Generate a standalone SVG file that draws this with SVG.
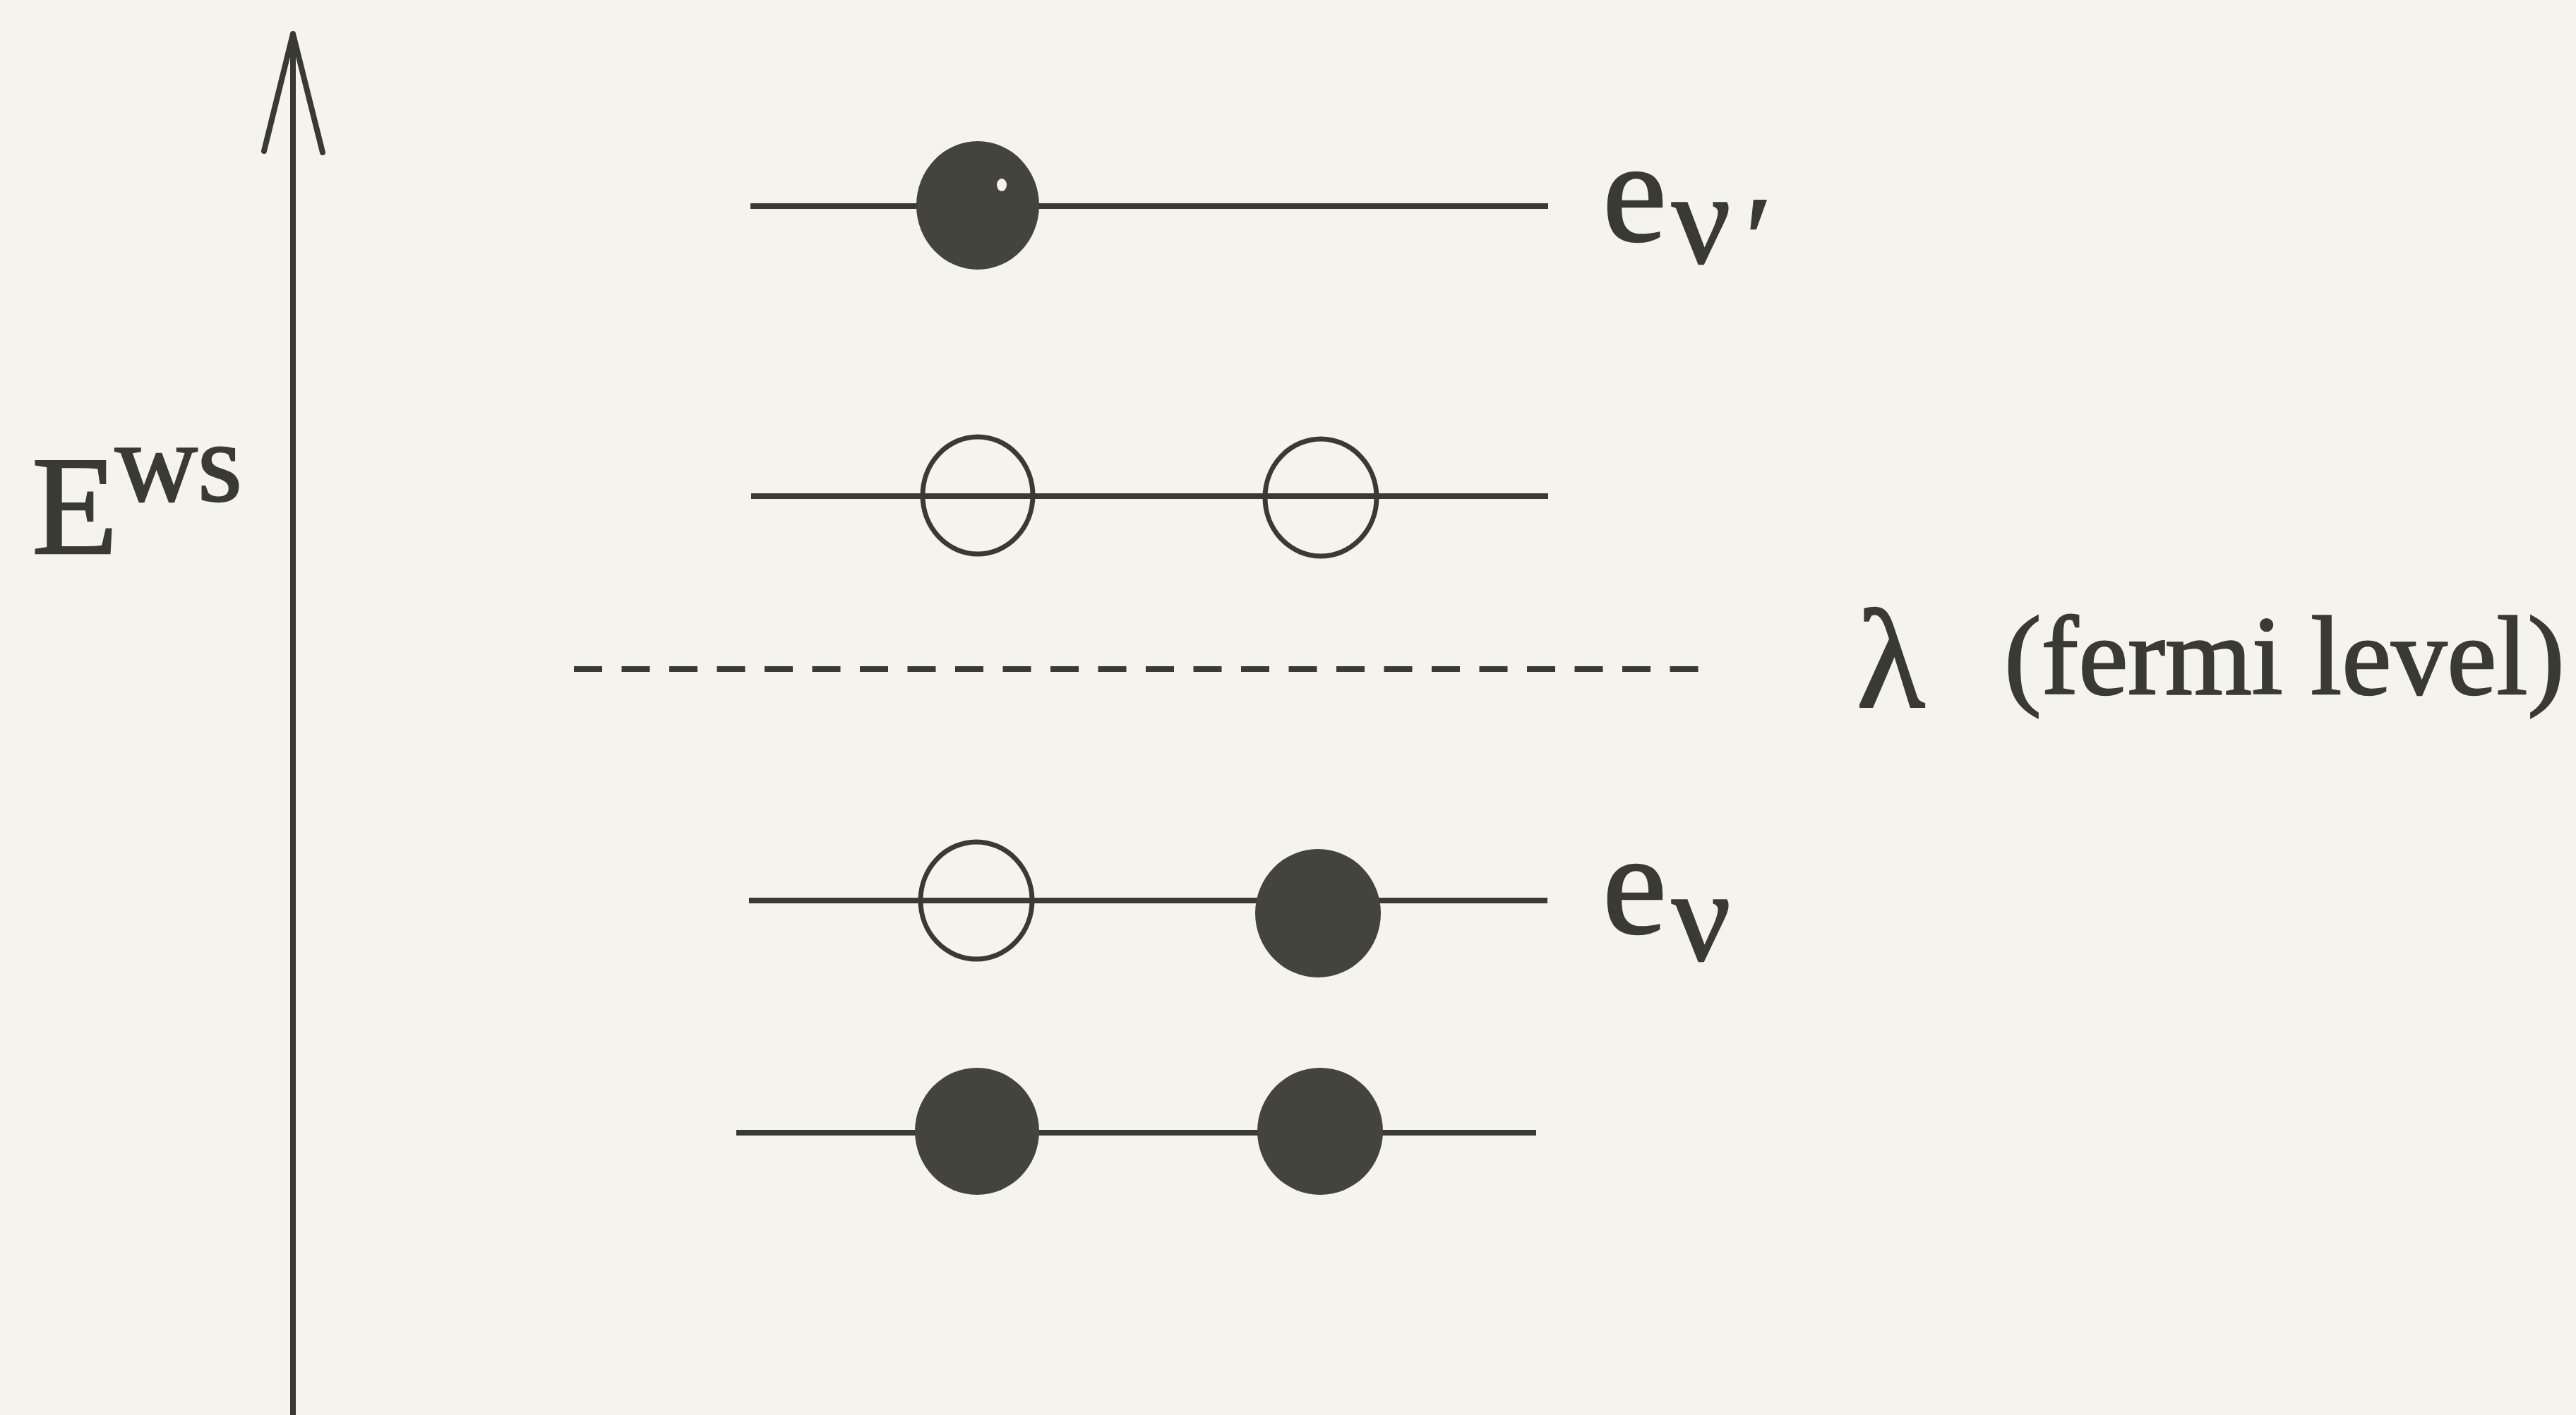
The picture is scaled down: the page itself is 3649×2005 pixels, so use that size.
<svg xmlns="http://www.w3.org/2000/svg" width="3649" height="2005" viewBox="0 0 3649 2005">
  <style>
    .ink { stroke: #3a3a35; stroke-width: 8; fill: none; stroke-linecap: round; }
    .lvl { stroke: #3a3a35; stroke-width: 8; fill: none; }
    .full { fill: #44443e; stroke: none; }
    .empty { fill: none; stroke: #3a3a35; stroke-width: 7; }
    .t { font-family: "Liberation Serif", "Times New Roman", serif; fill: #3a3a35; stroke: #3a3a35; stroke-width: 2.5; }
  </style>
  <rect width="3649" height="2005" fill="#f4f4ed"/>

  <g id="axis">
    <line class="ink" x1="415" y1="48" x2="415" y2="2010"/>
    <polyline class="ink" points="374,214 415,48 457,216" stroke-linejoin="miter"/>
    <text class="t" x="45" y="784" font-size="200">E</text>
    <text class="t" x="163" y="709" font-size="162">ws</text>
  </g>

  <g id="connectors">
    <line id="level-1" class="lvl" x1="1063" y1="292" x2="2193" y2="292"/>
    <line id="level-2" class="lvl" x1="1064" y1="703" x2="2193" y2="703"/>
    <line id="fermi" class="lvl" x1="813" y1="948" x2="2408" y2="948" stroke-dasharray="40 27.5"/>
    <line id="level-3" class="lvl" x1="1061" y1="1276" x2="2192" y2="1276"/>
    <line id="level-4" class="lvl" x1="1043" y1="1605" x2="2176" y2="1605"/>
  </g>

  <g id="e1a"><ellipse class="full" cx="1385" cy="291" rx="87" ry="91"/><ellipse cx="1419" cy="262" rx="7" ry="9" fill="#f4f4ed"/></g>
  <g id="e2a"><ellipse class="empty" cx="1385" cy="702" rx="78" ry="83"/></g>
  <g id="e2b"><ellipse class="empty" cx="1871" cy="705" rx="79" ry="83"/></g>
  <g id="e3a"><ellipse class="empty" cx="1383" cy="1276" rx="79" ry="83"/></g>
  <g id="e3b"><ellipse class="full" cx="1867" cy="1294" rx="89" ry="91"/></g>
  <g id="e4a"><ellipse class="full" cx="1384" cy="1603" rx="88" ry="90"/></g>
  <g id="e4b"><ellipse class="full" cx="1870" cy="1603" rx="89" ry="90"/></g>

  <g id="label-ev-prime">
    <text class="t" x="2270" y="341" font-size="205">e</text>
    <text class="t" x="2368" y="372" font-size="185">ν</text>
    <text class="t" x="2462" y="395" font-size="170" font-style="italic">′</text>
  </g>
  <g id="label-ev">
    <text class="t" x="2270" y="1322" font-size="205">e</text>
    <text class="t" x="2368" y="1360" font-size="185">ν</text>
  </g>
  <g id="label-fermi">
    <text class="t" x="2630" y="1001" font-size="200">λ</text>
    <text class="t" x="2839" y="983" font-size="158">(fermi level)</text>
  </g>
</svg>
